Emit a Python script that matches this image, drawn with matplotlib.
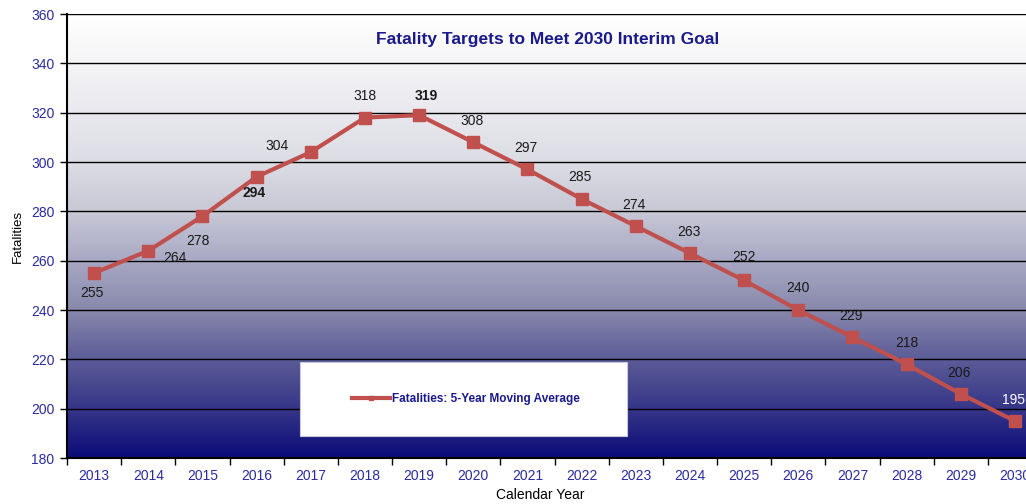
import matplotlib
matplotlib.use("Agg")
import matplotlib.pyplot as plt
import numpy as np
from matplotlib.colors import LinearSegmentedColormap
from matplotlib.patches import Rectangle
from matplotlib.lines import Line2D

years = ["2013", "2014", "2015", "2016", "2017", "2018", "2019", "2020", "2021",
         "2022", "2023", "2024", "2025", "2026", "2027", "2028", "2029", "2030"]
fatalities = [255, 264, 278, 294, 304, 318, 319, 308, 297, 285, 274, 263, 252,
              240, 229, 218, 206, 195]
y_ticks = [180, 200, 220, 240, 260, 280, 300, 320, 340, 360]

# label offsets in points (dx, dy)
label_offsets = [(-1.5, -14.5), (19.5, -5), (-3, -17.5), (-1.5, -11.5), (-24, 4.5), (0, 15.5),
                 (5, 14), (-1, 15.5), (-1, 15.5), (-1, 15.5), (-1, 15.5), (-1, 15.5),
                 (0, 16.5), (0, 15.5), (-1, 15.5), (0, 15.5), (-1, 15), (-1, 15)]
bold_idx = {3, 6}

plt.rcParams['font.family'] = ['Liberation Sans', 'DejaVu Sans']

fig = plt.figure(figsize=(10.26, 5.04), dpi=100)
ax = fig.add_axes([67/1026, 1-458/504, 975/1026, 444/504])

x = np.arange(len(years))
ax.set_xlim(-0.5, len(years) - 0.5)
ax.set_ylim(180, 360)

# gradient background
stops = [(0.0, "#0c0c7a"), (0.111, "#363688"), (0.222, "#5c5c98"), (0.333, "#8888ac"),
         (0.444, "#a8a8c4"), (0.556, "#c8c8d6"), (0.667, "#dcdce4"), (0.778, "#e8e8ee"),
         (0.889, "#f4f4f6"), (1.0, "#ffffff")]
cmap = LinearSegmentedColormap.from_list("bg", stops)
grad = np.linspace(0, 1, 512).reshape(-1, 1)
ax.imshow(grad, aspect="auto", cmap=cmap, origin="lower",
          extent=[-0.5, len(years) - 0.5, 180, 360], zorder=0)

for yt in y_ticks[1:]:
    ax.axhline(yt, color="black", lw=1.0, zorder=1)

line_color = "#c0504d"
ax.plot(x, fatalities, color=line_color, lw=3, marker="s", markersize=8.5,
        zorder=3)

for i, (xi, v) in enumerate(zip(x, fatalities)):
    dx, dy = label_offsets[i]
    col = "white" if i == len(years) - 1 else "#1a1a1a"
    ax.annotate(str(v), (xi, v), xytext=(dx, dy), textcoords="offset points",
                ha="center", va="center", fontsize=10,
                fontweight="bold" if i in bold_idx else "normal", color=col, zorder=4)

ax.set_yticks(y_ticks)
ax.set_yticklabels([str(t) for t in y_ticks], color="#2b2b9e", fontsize=10)
ax.set_xticks(x)
ax.set_xticklabels(years, color="#2b2b9e", fontsize=10)
ax.set_xticks(np.arange(-0.5, len(years)), minor=True)
ax.tick_params(axis="x", which="major", length=0, pad=8)
ax.tick_params(axis="x", which="minor", length=5, width=1, color="black")
ax.tick_params(axis="y", length=5, width=1, color="black", pad=4)

for s in ["top", "right"]:
    ax.spines[s].set_visible(False)
for s in ["left", "bottom"]:
    ax.spines[s].set_color("black")
    ax.spines[s].set_linewidth(1.5)

fig.text(18/1026, 1-236/504, "Fatalities", ha="center", va="center", rotation=90,
         fontsize=9.5, color="black")
fig.text(540/1026, 1-495/504, "Calendar Year", ha="center", va="center",
         fontsize=10, color="black")
fig.text(548/1026, 1-40/504, "Fatality Targets to Meet 2030 Interim Goal",
         ha="center", va="center", fontsize=12.5, fontweight="bold", color="#1a1a8a")

# legend box
fig.patches.append(Rectangle((300/1026, 1-436/504), 327/1026, 74/504,
                             transform=fig.transFigure, facecolor="white",
                             edgecolor="#c8c8d8", lw=0.8, zorder=5))
handle = Line2D([], [], color=line_color, lw=3, marker="s", markersize=3)
leg = fig.legend([handle], ["Fatalities: 5-Year Moving Average"], loc="center",
                 bbox_to_anchor=(466/1026, 1-399/504), frameon=False,
                 handlelength=3.2, handletextpad=0.2,
                 prop={"size": 8.5, "weight": "bold"})
for t in leg.get_texts():
    t.set_color("#1a1a8a")
leg.set_zorder(6)

fig.savefig("out.png", dpi=100)
